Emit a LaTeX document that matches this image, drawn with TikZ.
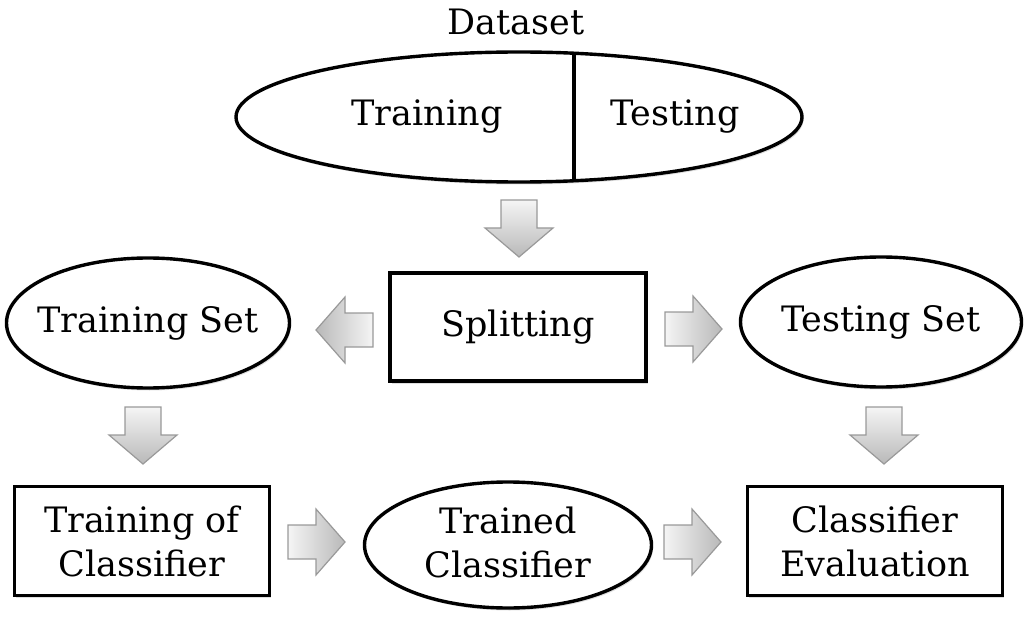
\documentclass[tikz,border=0pt]{standalone}
\usepackage{fontspec}
\setmainfont{DejaVu Serif}
\usetikzlibrary{shapes.geometric,shadows}
\tikzset{
  every node/.style={font=\fontsize{35}{44}\selectfont, inner sep=0pt},
  mybox/.style={draw, line width=3.4pt, fill=white, align=center,
    drop shadow={opacity=0.25, shadow xshift=1.5pt, shadow yshift=-2.5pt}},
  myell/.style={ellipse, draw, line width=3.4pt, fill=white,
    drop shadow={opacity=0.25, shadow xshift=1.5pt, shadow yshift=-2.5pt}},
  lbl/.style={align=center},
  blk/.style={draw=gray!80, line width=1.2pt, line join=miter},
}
\newcommand\arrdown[2]{% x center, y top
  \shade[blk, top color=gray!8, bottom color=gray!55]
   (#1-18,#2) -- (#1+18,#2) -- (#1+18,#2+28) -- (#1+34,#2+28) -- (#1,#2+57)
   -- (#1-34,#2+28) -- (#1-18,#2+28) -- cycle;}
\newcommand\arrright[2]{% x left, y center
  \shade[blk, left color=gray!8, right color=gray!55]
   (#1,#2-17) -- (#1+28,#2-17) -- (#1+28,#2-33) -- (#1+57,#2) -- (#1+28,#2+33)
   -- (#1+28,#2+17) -- (#1,#2+17) -- cycle;}
\newcommand\arrleft[2]{% x right (tail), y center
  \shade[blk, right color=gray!8, left color=gray!55]
   (#1,#2-17) -- (#1-28,#2-17) -- (#1-28,#2-33) -- (#1-57,#2) -- (#1-28,#2+33)
   -- (#1-28,#2+17) -- (#1,#2+17) -- cycle;}
\begin{document}
\begin{tikzpicture}[x=1pt,y=-1pt]
\useasboundingbox (0,0) rectangle (1030,620);

% Dataset
\node (dtitle) at (516,22) {Dataset};
\node[myell, minimum width=566pt, minimum height=130pt] (ds) at (519,117) {};
\coordinate (dtop) at (574,53);
\coordinate (dbot) at (574,181);
\draw[line width=3.4pt] (dtop) -- (dbot);
\node (dtrain) at (427,117) {Training};
\node (dtest) at (675,117) {Testing};

% middle row
\node[mybox, minimum width=256pt, minimum height=108pt] (split) at (518,327) {Splitting};
\node[myell, minimum width=283pt, minimum height=130pt] (trset) at (148,323) {};
\node[lbl] (trsetl) at (trset.center) {Training Set};
\node[myell, minimum width=281pt, minimum height=130pt] (teset) at (881,322) {};
\node[lbl] (tesetl) at (teset.center) {Testing Set};

% bottom row
\node[mybox, minimum width=255pt, minimum height=109pt] (trcl) at (142,541) {Training of\\Classifier};
\node[myell, minimum width=287pt, minimum height=126pt] (trained) at (508,545) {};
\node[lbl] (trainedl) at ([yshift=3pt]trained.center) {Trained\\Classifier};
\node[mybox, minimum width=255pt, minimum height=109pt] (eval) at (875,541) {Classifier\\Evaluation};

% block arrows
\arrdown{519}{200}
\arrleft{373}{330}
\arrright{665}{329}
\arrdown{143}{407}
\arrdown{884}{407}
\arrright{288}{542}
\arrright{664}{542}
\end{tikzpicture}
\end{document}
